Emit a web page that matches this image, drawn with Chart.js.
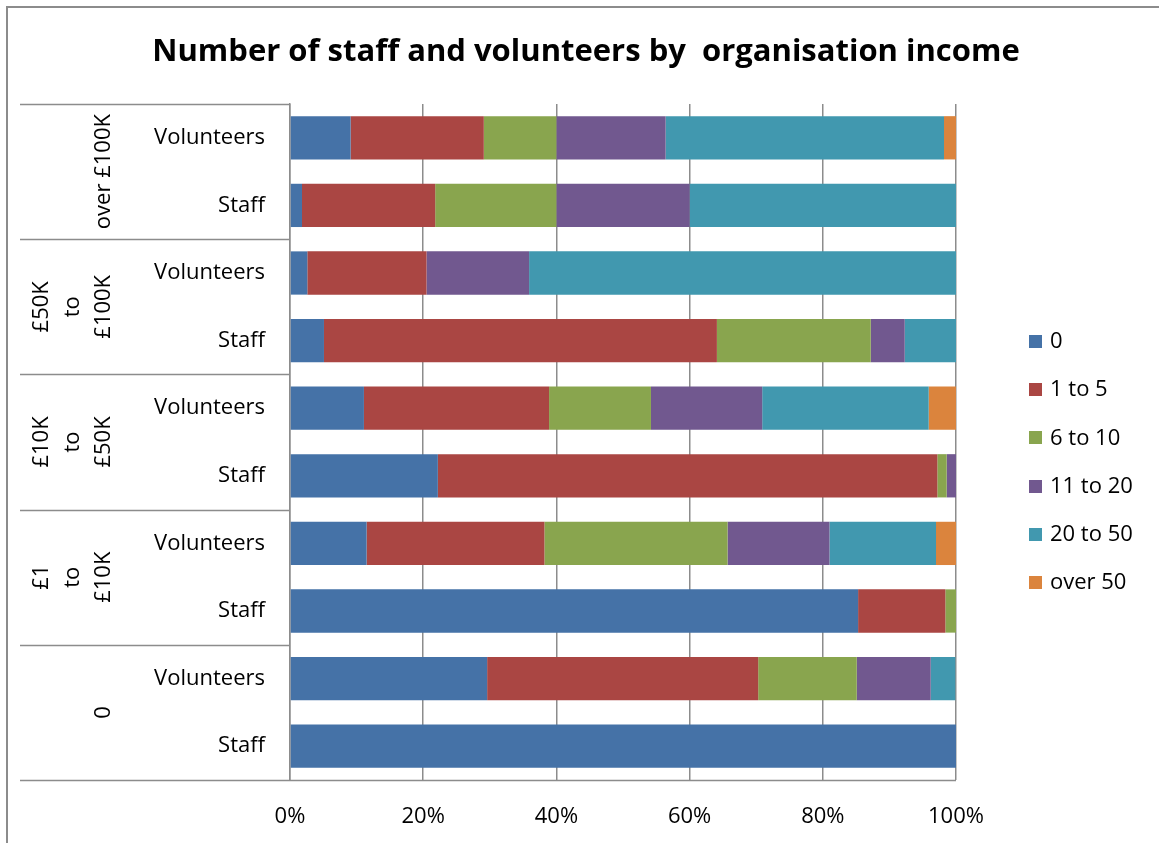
<!DOCTYPE html>
<html>
<head>
<meta charset="utf-8">
<script src="https://cdn.jsdelivr.net/npm/chart.js@4"></script>
<style>
  html, body { margin: 0; padding: 0; background: #fff; }
  #wrap { width: 1159px; height: 843px; position: relative; }
</style>
</head>
<body>
<div id="wrap"><canvas id="chart"></canvas></div>
<script>
// Staff / volunteer headcount bands as a share of organisations, split by income band.
// Rows run top to bottom: each income group has a Volunteers row then a Staff row.
const incomeGroups = [['over £100K'], ['£50K', 'to', '£100K'], ['£10K', 'to', '£50K'], ['£1', 'to', '£10K'], ['0']];
const rowLabels = ['Volunteers', 'Staff', 'Volunteers', 'Staff', 'Volunteers', 'Staff', 'Volunteers', 'Staff', 'Volunteers', 'Staff'];

const bandNames = ['0', '1 to 5', '6 to 10', '11 to 20', '20 to 50', 'over 50'];
const band0     = [9.1, 1.8, 2.6, 5.1, 11.1, 22.2, 11.5, 85.3, 29.6, 100];
const band1to5  = [20.0, 20.0, 17.9, 59.0, 27.8, 75.0, 26.7, 13.1, 40.7, 0];
const band6to10 = [10.9, 18.2, 0, 23.1, 15.3, 1.4, 27.5, 1.6, 14.8, 0];
const band11to20 = [16.4, 20.0, 15.4, 5.1, 16.7, 1.4, 15.3, 0, 11.1, 0];
const band20to50 = [41.8, 40.0, 64.1, 7.7, 25.0, 0, 16.0, 0, 3.7, 0];
const bandOver50 = [1.8, 0, 0, 0, 4.2, 0, 3.0, 0, 0, 0];

const xTicks = [0, 20, 40, 60, 80, 100];

const titleText = 'Number of staff and volunteers by  organisation income';

// Excel 2007 default palette
const colors = ['#4572A7', '#AA4643', '#89A54E', '#71588F', '#4198AF', '#DB843D'];
const FONT = '"Open Sans", Lato, sans-serif';
const LINE = '#8c8c8c';
const LABEL_SIZE = 22;

const series = [band0, band1to5, band6to10, band11to20, band20to50, bandOver50];

// Frame, title, group separators, rotated income labels and the side legend
const decorations = {
  id: 'decorations',
  afterDraw(chart) {
    const { ctx, chartArea: area, scales: { y } } = chart;
    const half = (y.getPixelForValue(1) - y.getPixelForValue(0)) / 2;
    ctx.save();

    // outer frame
    ctx.strokeStyle = LINE;
    ctx.lineWidth = 2;
    ctx.strokeRect(7, 7, chart.width + 20, chart.height + 20);

    // title, centred on the whole frame
    ctx.fillStyle = '#000';
    ctx.font = 'bold 31px ' + FONT;
    ctx.textAlign = 'center';
    ctx.textBaseline = 'middle';
    ctx.fillText(titleText, 586, 52);

    // horizontal rules between income groups in the label area
    ctx.lineWidth = 1.5;
    ctx.beginPath();
    for (let g = 0; g <= incomeGroups.length; g++) {
      const yy = g < incomeGroups.length ? y.getPixelForValue(g * 2) - half : area.bottom;
      ctx.moveTo(20, Math.round(yy) + 0.5);
      ctx.lineTo(g === incomeGroups.length ? area.right : area.left, Math.round(yy) + 0.5);
    }
    ctx.stroke();

    // rotated group names, last line sits nearest the row labels
    ctx.font = LABEL_SIZE + 'px ' + FONT;
    incomeGroups.forEach((lines, g) => {
      const cy = (y.getPixelForValue(g * 2) + y.getPixelForValue(g * 2 + 1)) / 2;
      lines.forEach((txt, j) => {
        const cx = 104 - 31 * (lines.length - 1 - j);
        ctx.save();
        ctx.translate(cx, cy);
        ctx.rotate(-Math.PI / 2);
        ctx.fillText(txt, 0, 0);
        ctx.restore();
      });
    });

    // legend
    ctx.textAlign = 'left';
    chart.data.datasets.forEach((ds, i) => {
      const ly = 342 + 48.2 * i;
      ctx.fillStyle = ds.backgroundColor;
      ctx.fillRect(1029, Math.round(ly - 7), 13, 13);
      ctx.fillStyle = '#000';
      ctx.fillText(ds.label, 1050, ly);
    });
    ctx.restore();
  }
};

new Chart(document.getElementById('chart'), {
  type: 'bar',
  data: {
    labels: rowLabels,
    datasets: series.map((vals, i) => ({
      label: bandNames[i],
      data: vals,
      backgroundColor: colors[i],
      borderWidth: 0,
      categoryPercentage: 1,
      barPercentage: 0.64
    }))
  },
  options: {
    indexAxis: 'y',
    responsive: true,
    maintainAspectRatio: false,
    animation: false,
    layout: { padding: { left: 0, right: 203, top: 104, bottom: 0 } },
    plugins: {
      legend: { display: false },
      tooltip: { enabled: false },
      title: { display: false }
    },
    scales: {
      x: {
        stacked: true,
        min: 0,
        max: 100,
        afterBuildTicks: s => { s.ticks = xTicks.map(v => ({ value: v })); },
        afterFit: s => { s.height = 63; },
        ticks: {
          callback: v => v + '%',
          color: '#000',
          padding: 24,
          maxRotation: 0,
          font: { family: FONT, size: LABEL_SIZE }
        },
        grid: { color: LINE, lineWidth: 1.5, drawTicks: false },
        border: { display: false }
      },
      y: {
        stacked: true,
        afterFit: s => { s.width = 290; },
        ticks: {
          color: '#000',
          padding: 17,
          font: { family: FONT, size: LABEL_SIZE }
        },
        grid: { display: false },
        border: { display: true, color: LINE, width: 1.5 }
      }
    }
  },
  plugins: [decorations]
});
</script>
</body>
</html>
